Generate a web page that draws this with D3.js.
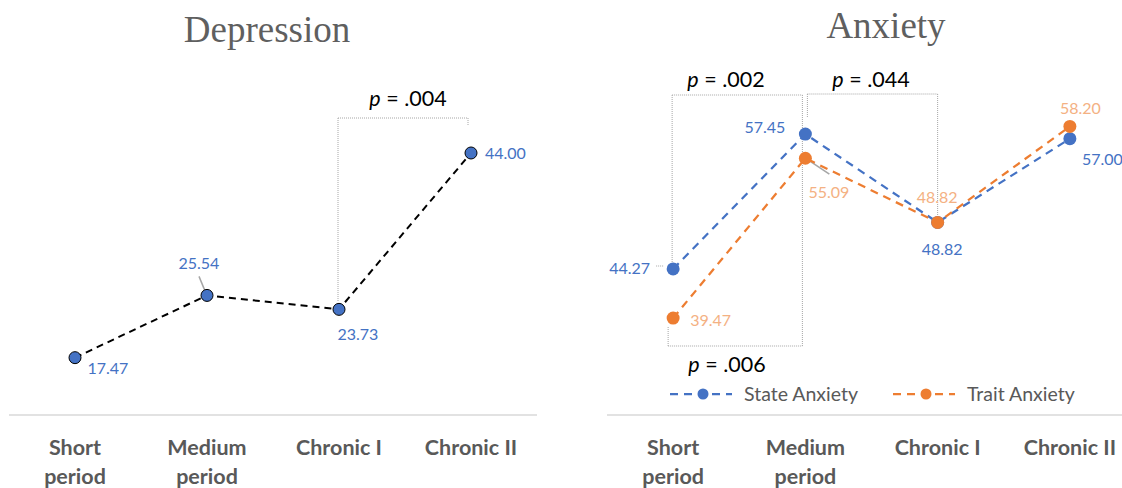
<!DOCTYPE html>
<html>
<head>
<meta charset="utf-8">
<script src="https://cdn.jsdelivr.net/npm/d3@7"></script>
<style>
  body { margin: 0; background: #fff; }
  text { font-family: Lato, "Open Sans", sans-serif; }
</style>
</head>
<body>
<svg width="1122" height="488"></svg>
<script>
// Categories (shared by both panels)
const categories = ["Short period", "Medium period", "Chronic I", "Chronic II"];
const categoryLines = [["Short", "period"], ["Medium", "period"], ["Chronic I"], ["Chronic II"]];

// Depression scores
const depression = [17.47, 25.54, 23.73, 44.00];

// Anxiety scores
const stateAnxiety = [44.27, 57.45, 48.82, 57.00];
const traitAnxiety = [39.47, 55.09, 48.82, 58.20];

// Significance annotations
const depressionP = ["p = .004"];
const anxietyP = ["p = .002", "p = .044", "p = .006"];

const blue = "#4472C4", orange = "#ED7D31", orangeLabel = "#F4B183", grey = "#595959";

const svg = d3.select("svg");

// ---------- Left panel: Depression ----------
const xL = d3.scaleBand().domain(categories).range([9, 537]);
const yL = d3.scaleLinear().domain([10, 50]).range([415.3, 106.7]);
const cx = (x, i) => x(categories[i]) + x.bandwidth() / 2;

function drawAxis(x, x0, x1) {
  svg.append("line")
    .attr("x1", x0).attr("x2", x1)
    .attr("y1", 415).attr("y2", 415)
    .attr("stroke", "#d9d9d9").attr("stroke-width", 1.5);
  const g = svg.append("g").selectAll("text")
    .data(categoryLines)
    .join("text")
      .attr("text-anchor", "middle")
      .attr("font-size", 21.5)
      .attr("font-weight", "bold")
      .attr("fill", grey);
  g.each(function(lines, i) {
    d3.select(this).selectAll("tspan")
      .data(lines)
      .join("tspan")
        .attr("x", cx(x, i))
        .attr("y", (d, j) => 455 + j * 29)
        .text(d => d);
  });
}

function dotted(x1, y1, x2, y2) {
  svg.append("line")
    .attr("x1", x1).attr("y1", y1).attr("x2", x2).attr("y2", y2)
    .attr("stroke", "#a6a6a6").attr("stroke-width", 1)
    .attr("stroke-dasharray", "1,1");
}

function pLabel(text, x, y) {
  const t = svg.append("text")
    .attr("x", x).attr("y", y)
    .attr("text-anchor", "middle")
    .attr("font-size", 21.5)
    .attr("fill", "#000");
  t.append("tspan").attr("font-style", "italic").text(text.slice(0, 1));
  t.append("tspan").text(text.slice(1));
}

svg.append("text")
  .attr("x", 267).attr("y", 42)
  .attr("text-anchor", "middle")
  .style("font-family", "'Liberation Serif', 'Times New Roman', serif")
  .attr("font-size", 37)
  .attr("fill", "#5f5f5f")
  .text("Depression");

drawAxis(xL, 9, 537);

// bracket Chronic I – Chronic II
dotted(cx(xL, 2) - 1, 118, cx(xL, 3) - 3, 118);
dotted(cx(xL, 2) - 1, 118, cx(xL, 2) - 1, 301);
dotted(cx(xL, 3) - 3, 118, cx(xL, 3) - 3, 126);
pLabel(depressionP[0], 408, 106);

const lineL = d3.line().x((d, i) => cx(xL, i)).y(d => yL(d));
svg.append("path")
  .datum(depression)
  .attr("d", lineL)
  .attr("fill", "none")
  .attr("stroke", "#000")
  .attr("stroke-width", 2)
  .attr("stroke-dasharray", "7,5");

// leader line for 25.54
svg.append("line")
  .attr("x1", cx(xL, 1) - 8).attr("y1", yL(depression[1]) - 19)
  .attr("x2", cx(xL, 1) - 1).attr("y2", yL(depression[1]) - 2)
  .attr("stroke", "#a6a6a6").attr("stroke-width", 1.5);

svg.append("g").selectAll("circle")
  .data(depression)
  .join("circle")
    .attr("cx", (d, i) => cx(xL, i))
    .attr("cy", d => yL(d))
    .attr("r", 6)
    .attr("fill", blue)
    .attr("stroke", "#000")
    .attr("stroke-width", 1);

const depOffsets = [[12.5, 11], [-28.5, -32], [-1.5, 25], [14, 0]];
svg.append("g").selectAll("text")
  .data(depression)
  .join("text")
    .attr("x", (d, i) => cx(xL, i) + depOffsets[i][0])
    .attr("y", (d, i) => yL(d) + depOffsets[i][1])
    .attr("dy", "0.35em")
    .attr("font-size", 16)
    .attr("fill", blue)
    .text(d => d.toFixed(2));

// ---------- Right panel: Anxiety ----------
const xR = d3.scaleBand().domain(categories).range([607, 1136]);
const yR = d3.scaleLinear().domain([30, 60]).range([415, 108]);

svg.append("text")
  .attr("x", 886).attr("y", 38)
  .attr("text-anchor", "middle")
  .style("font-family", "'Liberation Serif', 'Times New Roman', serif")
  .attr("font-size", 37)
  .attr("fill", "#5f5f5f")
  .text("Anxiety");

drawAxis(xR, 607, 1136);

// brackets
dotted(cx(xR, 0) - 1, 95, cx(xR, 1) - 3, 95);
dotted(cx(xR, 0) - 1, 95, cx(xR, 0) - 1, 262);
dotted(cx(xR, 1) - 3, 95, cx(xR, 1) - 3, 346);
dotted(cx(xR, 1) + 2, 94, cx(xR, 2), 94);
dotted(cx(xR, 1) + 2, 94, cx(xR, 1) + 2, 117);
dotted(cx(xR, 2), 94, cx(xR, 2), 215);
dotted(cx(xR, 0) - 5, 346, cx(xR, 1) - 3, 346);
dotted(cx(xR, 0) - 5, 346, cx(xR, 0) - 5, 326);
dotted(cx(xR, 0) - 17, 266, cx(xR, 0) - 10, 266);
pLabel(anxietyP[0], 726, 87);
pLabel(anxietyP[1], 871, 87);
pLabel(anxietyP[2], 727, 372);

const lineR = d3.line().x((d, i) => cx(xR, i)).y(d => yR(d));
const series = [
  {name: "State Anxiety", values: stateAnxiety, color: blue, labelColor: blue,
   offsets: [[-64, -1], [-61, -7], [-16, 27], [12, 21]]},
  {name: "Trait Anxiety", values: traitAnxiety, color: orange, labelColor: orangeLabel,
   offsets: [[17, 2], [3, 34], [-21, -25], [-10, -18]]}
];

// leader line for 55.09
svg.append("line")
  .attr("x1", cx(xR, 1)).attr("y1", yR(traitAnxiety[1]))
  .attr("x2", cx(xR, 1) + 24).attr("y2", yR(traitAnxiety[1]) + 16)
  .attr("stroke", "#a6a6a6").attr("stroke-width", 1.5);

series.forEach(s => {
  svg.append("path")
    .datum(s.values)
    .attr("d", lineR)
    .attr("fill", "none")
    .attr("stroke", s.color)
    .attr("stroke-width", 2.25)
    .attr("stroke-dasharray", "8,6");
  svg.append("g").selectAll("circle")
    .data(s.values)
    .join("circle")
      .attr("cx", (d, i) => cx(xR, i))
      .attr("cy", d => yR(d))
      .attr("r", 6.5)
      .attr("fill", s.color);
});

series.forEach(s => {
  svg.append("g").selectAll("text")
    .data(s.values)
    .join("text")
      .attr("x", (d, i) => cx(xR, i) + s.offsets[i][0])
      .attr("y", (d, i) => yR(d) + s.offsets[i][1])
      .attr("dy", "0.35em")
      .attr("font-size", 16)
      .attr("fill", s.labelColor)
      .text(d => d.toFixed(2));
});

// legend
const legendX = [670, 893];
series.forEach((s, i) => {
  const g = svg.append("g").attr("transform", `translate(${legendX[i]},394)`);
  g.append("line")
    .attr("x1", 0).attr("x2", 62)
    .attr("stroke", s.color).attr("stroke-width", 2.25)
    .attr("stroke-dasharray", "8,6");
  g.append("circle").attr("cx", 33).attr("r", 5.5).attr("fill", s.color);
  g.append("text")
    .attr("x", 74).attr("dy", "0.35em")
    .attr("font-size", 19.5)
    .attr("fill", grey)
    .text(s.name);
});
</script>
</body>
</html>
